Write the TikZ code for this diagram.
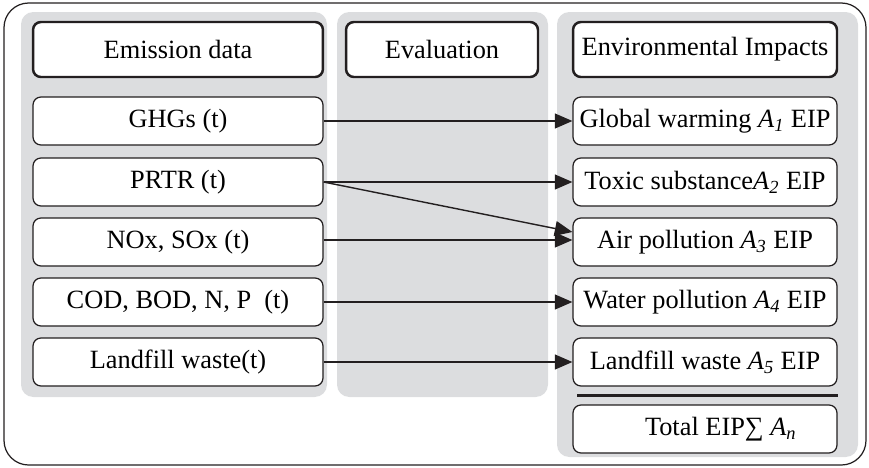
\documentclass[tikz,border=0pt]{standalone}
\usepackage{fontspec}
\setmainfont{Liberation Serif}
\usepackage{tikz}
\usetikzlibrary{
  positioning,
  arrows.meta,
  calc
}
\definecolor{panelgrey}{RGB}{220, 221, 223}
\definecolor{inkgrey}{RGB}{35, 31, 32}
\tikzset{
  datbox/.style={
    draw=inkgrey, line width=0.7pt, fill=white,
    rounded corners=4.5pt,
    minimum height=0.96cm,
    font=\fontsize{15}{17}\selectfont,
    align=center, inner sep=0pt
  },
  headbox/.style={
    datbox, line width=1.4pt,
    minimum height=1.1cm
  },
  flow/.style={-{Triangle[length=10pt, width=8.5pt]}, line width=0.8pt, inkgrey},
  panel/.style={fill=panelgrey, rounded corners=7pt}
}

\begin{document}
\begin{tikzpicture}[
  x=0.02cm, y=-0.02cm,
  leftbox/.style={datbox, minimum width=5.8cm},
  impbox/.style={datbox, minimum width=5.28cm},
  sepline/.style={line width=1.7pt, inkgrey}
]

\useasboundingbox (0,0) rectangle (869,467);

% Marco y columnas
\draw[inkgrey, line width=0.7pt, rounded corners=14pt] (4,3) rectangle (866,465);
\fill[panel] (21,12) rectangle (327,397);
\fill[panel] (337,12) rectangle (548,397);
\fill[panel] (557,12) rectangle (858,457);

% Cabeceras
\node[headbox, minimum width=5.8cm] (hemis) at (178,49.5) {Emission data};
\node[headbox, minimum width=3.84cm] (heval) at (442,49.5) {Evaluation};
\node[headbox, minimum width=5.28cm] (himp) at (705,49.5) {Environmental Impacts};

% Datos de emision
\node[leftbox] (ghg) at (178,121) {GHGs (t)};
\node[leftbox] (prtr) at (178,182) {PRTR (t)};
\node[leftbox] (nox) at (178,242) {NOx, SOx (t)};
\node[leftbox] (cod) at (178,302) {COD, BOD, N, P~~(t)};
\node[leftbox] (landw) at (178,362) {Landfill waste(t)};

% Impactos
\node[impbox] (glob) at (705,121) {Global warming \textit{A}\textsubscript{\textit{1}} EIP};
\node[impbox] (toxic) at (705,182) {Toxic substance\textit{A}\textsubscript{\textit{2}} EIP};
\node[impbox] (air) at (705,242) {Air pollution \textit{A}\textsubscript{\textit{3}} EIP};
\node[impbox] (water) at (705,302) {Water pollution \textit{A}\textsubscript{\textit{4}} EIP};
\node[impbox] (landi) at (705,362) {Landfill waste \textit{A}\textsubscript{\textit{5}} EIP};
\node[impbox] (total) at (705,429) {\hspace*{1.2em}Total EIP∑ \textit{A}\textsubscript{\textit{n}}};

\draw[sepline] ($(landi.south west)!0.5!(total.north west)+(5,0)$) -- ($(landi.south east)!0.5!(total.north east)$);

% Flechas
\draw[flow] (ghg.east) -- (glob.west);
\draw[flow] (prtr.east) -- (toxic.west);
\draw[flow] (prtr.east) -- ([yshift=0.2cm]air.west);
\draw[flow] ([yshift=0.04cm]nox.east) -- ([yshift=0.04cm]air.west);
\draw[flow] (cod.east) -- (water.west);
\draw[flow] (landw.east) -- (landi.west);

\end{tikzpicture}
\end{document}
